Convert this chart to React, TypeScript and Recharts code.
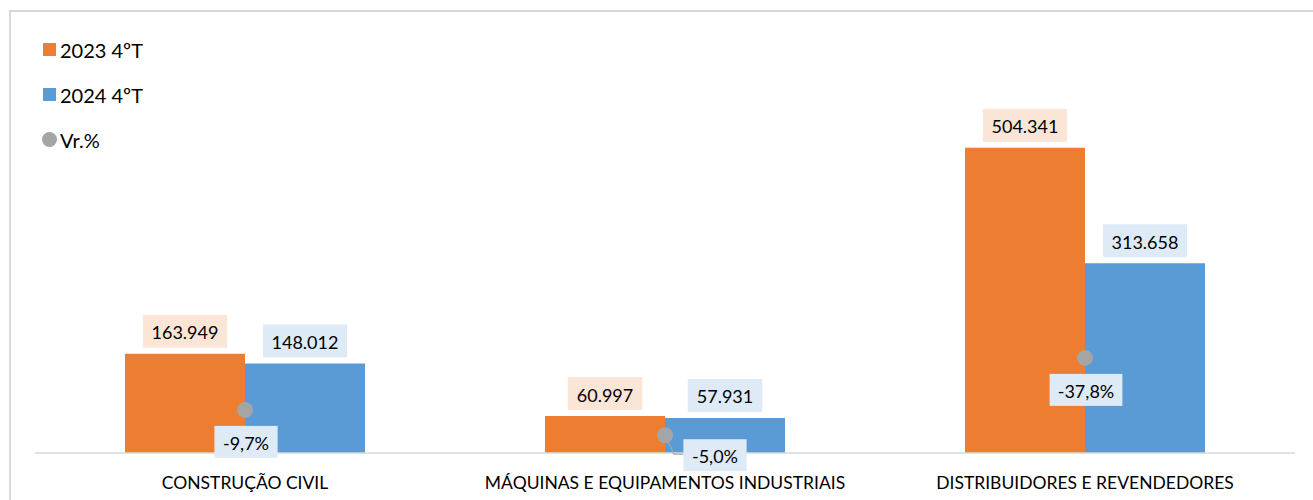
import React from "react";
import { ComposedChart, Bar, Line, XAxis, YAxis, LabelList, Legend } from "recharts";

const categories = ["CONSTRUÇÃO CIVIL", "MÁQUINAS E EQUIPAMENTOS INDUSTRIAIS", "DISTRIBUIDORES E REVENDEDORES"];
const values2023 = [163949, 60997, 504341];
const values2024 = [148012, 57931, 313658];
const variation = [-9.7, -5.0, -37.8];
const seriesNames = ["2023 4ºT", "2024 4ºT", "Vr.%"];

const ORANGE = "#ED7D31";
const BLUE = "#5B9BD5";
const GREY = "#A5A5A5";
const FONT = "Lato, 'Noto Sans', sans-serif";

const data = categories.map((c, i) => ({
  name: c,
  v2023: values2023[i],
  v2024: values2024[i],
  vr: variation[i],
}));

const fmtThousands = (v: number) => String(v).replace(/\B(?=(\d{3})+(?!\d))/g, ".");
const fmtPct = (v: number) => v.toFixed(1).replace(".", ",") + "%";

const charW = (s: string) => {
  let w = 0;
  for (const ch of s) {
    if (/[0-9]/.test(ch)) w += 9.6;
    else if (ch === "." || ch === ",") w += 4.5;
    else if (ch === "-") w += 5.5;
    else if (ch === "%") w += 14;
    else w += 9;
  }
  return w;
};

const makeBarLabel = (bg: string) => (props: any) => {
  const { x, y, width, value } = props;
  const cx = Number(x) + Number(width) / 2;
  const txt = fmtThousands(Number(value));
  const w = charW(txt) + 22;
  const h = 33;
  const bottom = Number(y) - 6;
  return (
    <g>
      <rect x={cx - w / 2} y={bottom - h} width={w} height={h} fill={bg} />
      <text x={cx} y={bottom - h / 2 + 1} textAnchor="middle" dominantBaseline="central" fontFamily={FONT} fontSize={18} fill="#000">
        {txt}
      </text>
    </g>
  );
};

const VR_LABEL_STYLE = [
  { dx: 1, dy: 32, leader: false },
  { dx: 50, dy: 20, leader: true },
  { dx: 1, dy: 32, leader: false },
];

const VrLabel = (props: any) => {
  const { x, y, value, index } = props;
  const st = VR_LABEL_STYLE[index] || VR_LABEL_STYLE[0];
  const txt = fmtPct(Number(value));
  const w = charW(txt) + 20;
  const h = 32;
  const cx = Number(x) + st.dx;
  const cy = Number(y) + st.dy;
  return (
    <g>
      {st.leader && (
        <polyline
          points={`${x},${y} ${Number(x) + 9},${cy - 1} ${cx - w / 2},${cy - 1}`}
          fill="none"
          stroke={GREY}
          strokeWidth={1.2}
        />
      )}
      <rect x={cx - w / 2} y={cy - h / 2} width={w} height={h} fill="#DEEBF7" />
      <text x={cx} y={cy + 1} textAnchor="middle" dominantBaseline="central" fontFamily={FONT} fontSize={18} fill="#000">
        {txt}
      </text>
    </g>
  );
};

const CategoryTick = (props: any) => {
  const { x, y, payload } = props;
  return (
    <text x={x} y={Number(y) + 36} textAnchor="middle" fontFamily={FONT} fontSize={17.5} fill="#000">
      {payload.value}
    </text>
  );
};

const LegendContent = () => {
  const colors = [ORANGE, BLUE, GREY];
  return (
    <div style={{ fontFamily: FONT, fontSize: 20, color: "#000" }}>
      {seriesNames.map((n, i) => (
        <div key={n} style={{ display: "flex", alignItems: "center", height: 45 }}>
          <span
            style={{
              display: "inline-block",
              width: i === 2 ? 15 : 13,
              height: i === 2 ? 15 : 13,
              borderRadius: i === 2 ? "50%" : 0,
              background: colors[i],
              marginRight: i === 2 ? 3 : 4,
              marginLeft: i === 2 ? -1 : 0,
            }}
          />
          <span>{n}</span>
        </div>
      ))}
    </div>
  );
};

export default function App() {
  return (
    <div style={{ position: "absolute", left: 0, top: 0, width: 1313, height: 500, background: "#fff", overflow: "hidden" }}>
      <div
        style={{
          position: "absolute",
          left: 9,
          top: 10,
          width: 1400,
          height: 600,
          borderTop: "2px solid #D9D9D9",
          borderLeft: "2px solid #D9D9D9",
        }}
      />
      <div style={{ position: "absolute", left: 0, top: 0 }}>
        <ComposedChart
          width={1313}
          height={500}
          data={data}
          margin={{ top: 90, right: 18, bottom: 0, left: 35 }}
          barGap={0}
        >
          <XAxis
            dataKey="name"
            tickLine={false}
            tickSize={0}
            tickMargin={0}
            axisLine={{ stroke: "#D9D9D9", strokeWidth: 1.5 }}
            tick={<CategoryTick />}
            interval={0}
            height={47}
          />
          <YAxis yAxisId="left" hide domain={[0, 600000]} />
          <YAxis yAxisId="right" hide orientation="right" scale="log" domain={[3.14, 41840]} allowDataOverflow />
          <Legend
            layout="vertical"
            align="center"
            verticalAlign="middle"
            wrapperStyle={{ left: 43, top: 27, width: 200, height: 140 }}
            content={<LegendContent />}
          />
          <Bar yAxisId="left" dataKey="v2023" fill={ORANGE} barSize={120} isAnimationActive={false}>
            <LabelList dataKey="v2023" content={makeBarLabel("#FBE5D6")} />
          </Bar>
          <Bar yAxisId="left" dataKey="v2024" fill={BLUE} barSize={120} isAnimationActive={false}>
            <LabelList dataKey="v2024" content={makeBarLabel("#DEEBF7")} />
          </Bar>
          <Line
            yAxisId="right"
            dataKey={(d: any) => Math.abs(d.vr)}
            stroke="none"
            dot={{ r: 8, fill: GREY, stroke: "none" }}
            activeDot={false}
            isAnimationActive={false}
            legendType="circle"
          >
            <LabelList dataKey="vr" content={<VrLabel />} />
          </Line>
        </ComposedChart>
      </div>
    </div>
  );
}
